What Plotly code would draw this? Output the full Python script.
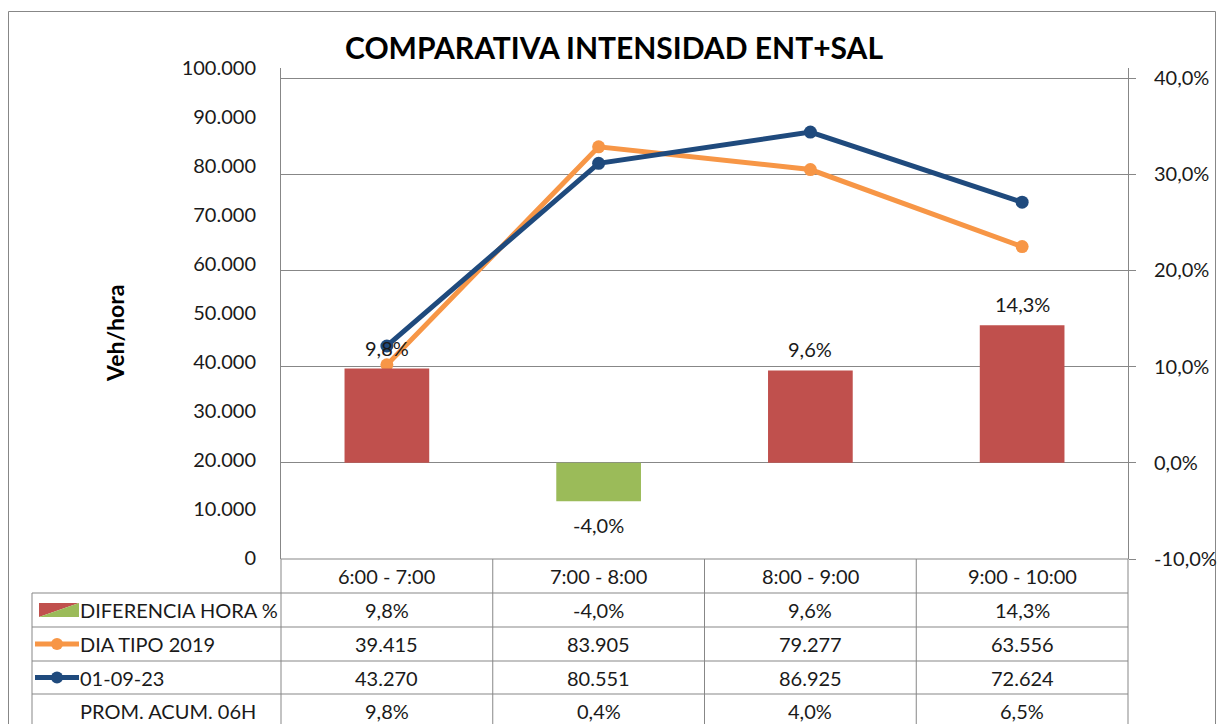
import plotly.graph_objects as go

# ---------------- data ----------------
categories = ["6:00 - 7:00", "7:00 - 8:00", "8:00 - 9:00", "9:00 - 10:00"]
diferencia_hora = [0.098, -0.040, 0.096, 0.143]
dia_tipo_2019 = [39415, 83905, 79277, 63556]
fecha_010923 = [43270, 80551, 86925, 72624]
prom_acum_06h = [0.098, 0.004, 0.040, 0.065]

series_names = ["DIFERENCIA HORA %", "DIA TIPO 2019", "01-09-23", "PROM. ACUM. 06H"]

left_tickvals = [0, 10000, 20000, 30000, 40000, 50000, 60000, 70000, 80000, 90000, 100000]
left_ticktext = ["0", "10.000", "20.000", "30.000", "40.000", "50.000", "60.000",
                 "70.000", "80.000", "90.000", "100.000"]
right_tickvals = [-0.10, 0.0, 0.10, 0.20, 0.30, 0.40]
right_ticktext = ["-10,0%", "0,0%", "10,0%", "20,0%", "30,0%", "40,0%"]

title_text = "COMPARATIVA INTENSIDAD ENT+SAL"
yaxis_title = "Veh/hora"

# ---------------- style ----------------
FONT = "Lato"
W, H = 1217, 724
PL, PR, PT, PB = 281, 1128, 68, 559   # plot area in pixels
RED, GREEN = "#C0504D", "#9BBB59"
ORANGE, BLUE = "#F79646", "#1F4A7D"
GRID = "#878787"
TXT = "#1a1a1a"
FS = 20


def px_x(p):
    return (p - PL) / (PR - PL)


def px_y(p):
    return (PB - p) / (PB - PT)


def pct(v):
    return f"{v * 100:.1f}%".replace(".", ",")


def thou(v):
    return f"{v:,.0f}".replace(",", ".")


fig = go.Figure()

fig.add_trace(go.Bar(
    x=categories, y=diferencia_hora, yaxis="y2",
    marker=dict(color=[RED if v >= 0 else GREEN for v in diferencia_hora], line=dict(width=0)),
    width=0.4, name=series_names[0], hoverinfo="skip",
))
fig.add_trace(go.Scatter(
    x=categories, y=dia_tipo_2019, yaxis="y", mode="lines+markers",
    line=dict(color=ORANGE, width=5), marker=dict(size=13, color=ORANGE),
    name=series_names[1],
))
fig.add_trace(go.Scatter(
    x=categories, y=fecha_010923, yaxis="y", mode="lines+markers",
    line=dict(color=BLUE, width=5), marker=dict(size=13, color=BLUE),
    name=series_names[2],
))

annotations = []
shapes = []

# bar data labels
for c, v in zip(categories, diferencia_hora):
    annotations.append(dict(
        x=c, y=v, xref="x", yref="y2", text=pct(v), showarrow=False,
        yshift=21 if v >= 0 else -24, font=dict(family=FONT, size=FS, color=TXT),
    ))

# title
annotations.append(dict(
    x=px_x(614), y=px_y(47), xref="paper", yref="paper", text=f"<b>{title_text}</b>",
    showarrow=False, font=dict(family=FONT, size=30, color="#000000"),
    xanchor="center", yanchor="middle",
))
# y axis title
annotations.append(dict(
    x=px_x(115), y=px_y(334), xref="paper", yref="paper", text=f"<b>{yaxis_title}</b>",
    showarrow=False, textangle=-90, font=dict(family=FONT, size=23, color="#000000"),
    xanchor="center", yanchor="middle",
))

# ---------------- data table ----------------
row_edges = [559, 593, 627, 661, 694, 728]
col_edges = [PL + i * (PR - PL) / 4 for i in range(5)]
label_left = 32
line_style = dict(color=GRID, width=1)

for i, ry in enumerate(row_edges):
    x0 = PL if i == 0 else label_left
    shapes.append(dict(type="line", xref="paper", yref="paper",
                       x0=px_x(x0), x1=px_x(PR), y0=px_y(ry), y1=px_y(ry), line=line_style))
for cx in col_edges:
    shapes.append(dict(type="line", xref="paper", yref="paper",
                       x0=px_x(cx), x1=px_x(cx), y0=px_y(row_edges[0]), y1=px_y(row_edges[-1]),
                       line=line_style))
shapes.append(dict(type="line", xref="paper", yref="paper",
                   x0=px_x(label_left), x1=px_x(label_left), y0=px_y(row_edges[1]), y1=px_y(row_edges[-1]),
                   line=line_style))

rows_text = [
    [pct(v) for v in diferencia_hora],
    [thou(v) for v in dia_tipo_2019],
    [thou(v) for v in fecha_010923],
    [pct(v) for v in prom_acum_06h],
]


def row_mid(i):
    return px_y((row_edges[i] + row_edges[i + 1]) / 2)


for c in categories:
    annotations.append(dict(x=c, y=row_mid(0), xref="x", yref="paper", text=c, showarrow=False,
                            font=dict(family=FONT, size=FS, color=TXT), xanchor="center", yanchor="middle"))
for r, vals in enumerate(rows_text):
    for c, t in zip(categories, vals):
        annotations.append(dict(x=c, y=row_mid(r + 1), xref="x", yref="paper", text=t, showarrow=False,
                                font=dict(family=FONT, size=FS, color=TXT), xanchor="center", yanchor="middle"))
    annotations.append(dict(x=px_x(78), y=row_mid(r + 1), xref="paper", yref="paper",
                            text=series_names[r], showarrow=False,
                            font=dict(family=FONT, size=FS, color=TXT), xanchor="left", yanchor="middle"))

# legend keys in table
ky0, ky1 = px_y(617), px_y(603)
kx0, kx1 = px_x(39), px_x(79)
shapes.append(dict(type="path", xref="paper", yref="paper",
                   path=f"M {kx0} {ky0} L {kx0} {ky1} L {kx1} {ky1} Z", fillcolor=RED, line=dict(width=0)))
shapes.append(dict(type="path", xref="paper", yref="paper",
                   path=f"M {kx0} {ky0} L {kx1} {ky1} L {kx1} {ky0} Z", fillcolor=GREEN, line=dict(width=0)))
for r, col in ((2, ORANGE), (3, BLUE)):
    ym = row_mid(r)
    shapes.append(dict(type="line", xref="paper", yref="paper", x0=px_x(35), x1=px_x(79),
                       y0=ym, y1=ym, line=dict(color=col, width=5)))
    shapes.append(dict(type="circle", xref="paper", yref="paper",
                       x0=px_x(51), x1=px_x(63), y0=ym - 6 / (PB - PT), y1=ym + 6 / (PB - PT),
                       fillcolor=col, line=dict(width=0)))

# outer chart border
shapes.append(dict(type="rect", xref="paper", yref="paper",
                   x0=px_x(8.5), x1=px_x(1215.5), y0=px_y(760), y1=px_y(11.5),
                   line=dict(color=GRID, width=1), layer="below"))

fig.update_layout(
    width=W, height=H, autosize=False,
    margin=dict(l=PL, r=W - PR, t=PT, b=H - PB, pad=0, autoexpand=False),
    paper_bgcolor="white", plot_bgcolor="white",
    showlegend=False,
    font=dict(family=FONT, size=FS, color=TXT),
    xaxis=dict(type="category", range=[-0.5, 3.5], showticklabels=False, showgrid=False,
               zeroline=False, showline=False, ticks="", automargin=False),
    yaxis=dict(range=[-204, 100000], tickvals=left_tickvals, ticktext=left_ticktext,
               showgrid=False, zeroline=False, showline=True, linecolor=GRID, linewidth=1,
               ticks="", ticklabelstandoff=20, automargin=False,
               tickfont=dict(family=FONT, size=FS, color=TXT)),
    yaxis2=dict(range=[-0.10, 0.4104], overlaying="y", side="right",
                tickvals=right_tickvals, ticktext=right_ticktext,
                showgrid=True, gridcolor=GRID, gridwidth=1, zeroline=False,
                showline=True, linecolor=GRID, linewidth=1, ticks="outside", ticklen=7,
                tickcolor=GRID, ticklabelstandoff=14, automargin=False,
                tickfont=dict(family=FONT, size=FS, color=TXT)),
    annotations=annotations,
    shapes=shapes,
)

fig.write_html(
    "out.html",
    config={"displayModeBar": False},
    post_script="document.body.style.margin='0px';document.body.style.overflow='hidden';"
                "document.documentElement.style.overflow='hidden';",
)
